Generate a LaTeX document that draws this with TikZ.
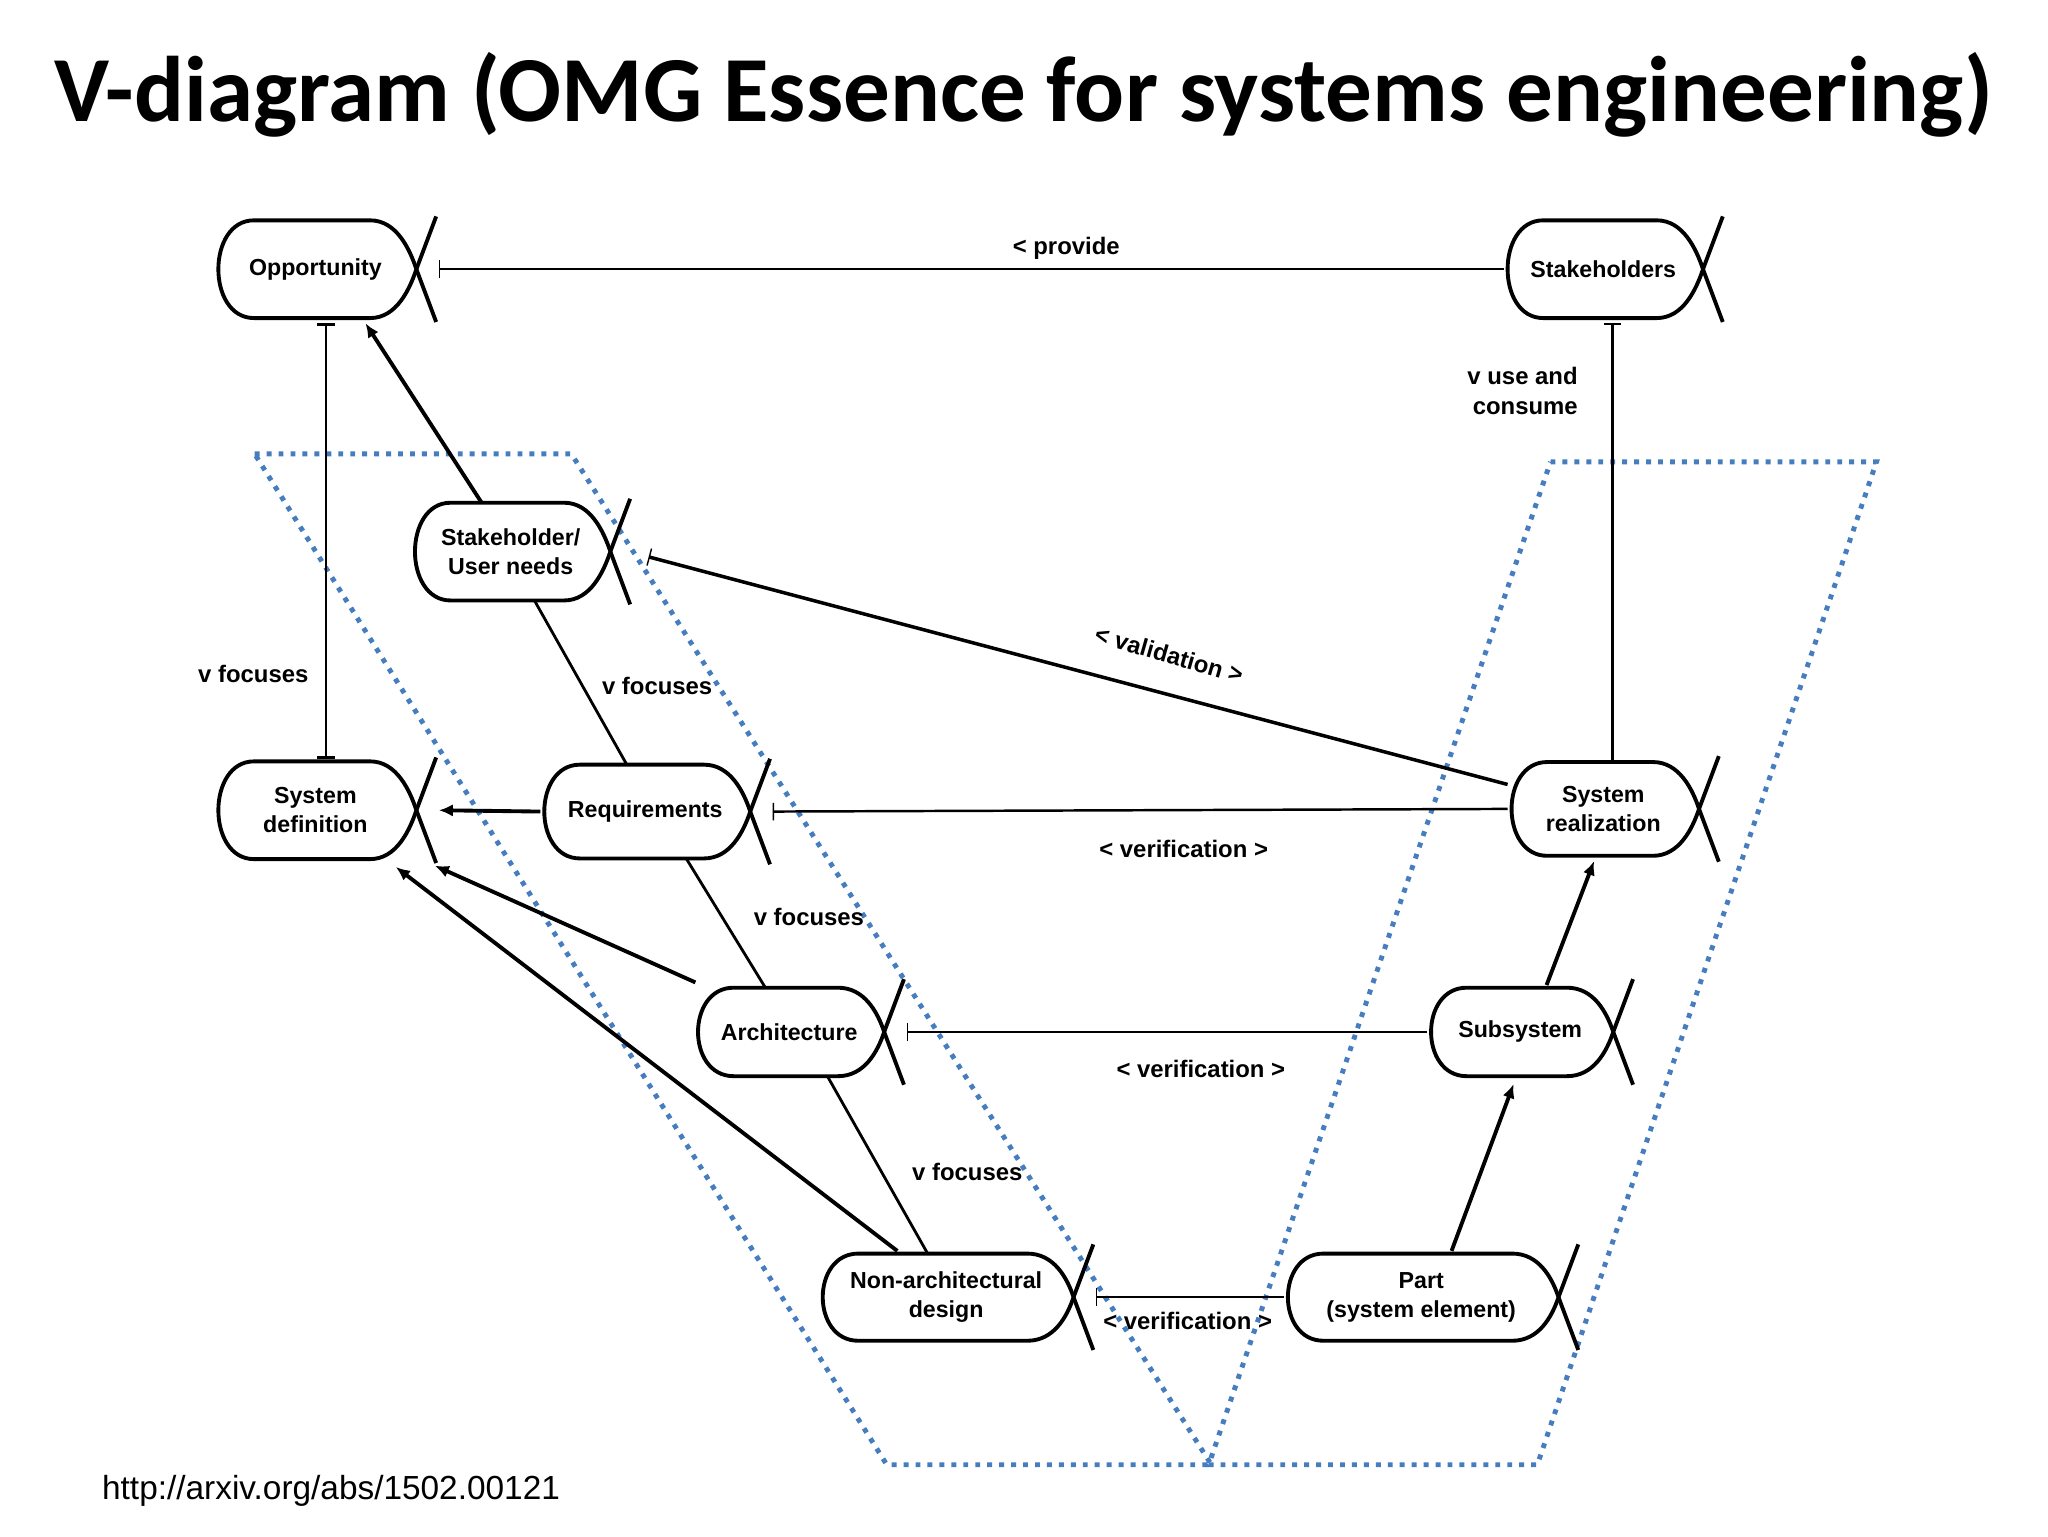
\documentclass[tikz,border=0pt]{standalone}
\usepackage{fontspec}
\setmainfont{Liberation Sans}
\newfontfamily\titlefont{Carlito}
\usetikzlibrary{calc,arrows.meta}
\definecolor{zoneblue}{RGB}{70,125,190}

\tikzset{
  ess/.style={draw=none, inner sep=0pt, align=center, font=\fontsize{6.6}{8.2}\selectfont\bfseries},
  lbl/.style={font=\fontsize{6.8}{8.5}\selectfont\bfseries, align=center},
  bar/.style={-{Bar[width=5pt,line width=0.4pt]}, line width=0.7pt},
  own/.style={-{Latex[length=4pt,width=3.5pt]}, line width=1.1pt},
  foc/.style={line width=0.8pt},
  zone/.style={draw=zoneblue, dotted, line width=1.4pt}
}
\newcommand{\essbody}[1]{%
  \draw[line width=1.1pt] ($(#1.north west)+(30,0)$) -- ($(#1.north east)+(-35,0)$)
    .. controls ($(#1.north east)+(-15,0)$) and ($(#1.east)+(-5,-15)$) .. (#1.east)
    .. controls ($(#1.east)+(-5,15)$) and ($(#1.south east)+(-15,0)$) .. ($(#1.south east)+(-35,0)$)
    -- ($(#1.south west)+(30,0)$)
    .. controls ($(#1.south west)+(-6,0)$) and ($(#1.north west)+(-6,0)$) .. cycle;
  \draw[line width=1.1pt] (#1.east) -- ++(15,-40) (#1.east) -- ++(15,40);
  \coordinate (#1-x) at ($(#1.east)+(17,0)$);}

\begin{document}
\begin{tikzpicture}[x=0.013196cm, y=-0.013196cm]
    \useasboundingbox (0,0) rectangle (1552,1164);
    \node[font=\titlefont\fontsize{26.5}{31}\selectfont\bfseries] (title) at (776,72) {V-diagram (OMG Essence for systems engineering)};

    % dotted zones
    \draw[zone] (193,344) -- (433,344) -- (918,1110) -- (672,1110) -- cycle;
    \draw[zone] (1175,350) -- (1422,350) -- (1165,1110) -- (916,1110) -- cycle;

    % alphas
    \node[ess, minimum width={152*0.013196cm}, minimum height={73*0.013196cm}] (opportunity) at (239,204) {Opportunity};
    \node[ess, minimum width={150*0.013196cm}, minimum height={73*0.013196cm}] (stakeholders) at (1215,204) {Stakeholders};
    \node[ess, minimum width={150*0.013196cm}, minimum height={73*0.013196cm}] (needs) at (387,418) {Stakeholder/\\User needs};
    \node[ess, minimum width={152*0.013196cm}, minimum height={73*0.013196cm}] (sysdef) at (239,614) {System\\definition};
    \node[ess, minimum width={158*0.013196cm}, minimum height={70*0.013196cm}] (req) at (489,615) {Requirements};
    \node[ess, minimum width={144*0.013196cm}, minimum height={70*0.013196cm}] (sysreal) at (1215,613) {System\\realization};
    \node[ess, minimum width={143*0.013196cm}, minimum height={66*0.013196cm}] (arch) at (598,782) {Architecture};
    \node[ess, minimum width={140*0.013196cm}, minimum height={66*0.013196cm}] (subsys) at (1152,782) {Subsystem};
    \node[ess, minimum width={192*0.013196cm}, minimum height={65*0.013196cm}] (nonarch) at (717,983) {Non-architectural\\design};
    \node[ess, minimum width={207*0.013196cm}, minimum height={65*0.013196cm}] (part) at (1077,983) {Part\\(system element)};
    \foreach \n in {opportunity,stakeholders,needs,sysdef,req,sysreal,arch,subsys,nonarch,part}
        \essbody{\n};

    % relations
    \draw[bar] (stakeholders.west) -- (opportunity-x);
    \draw[{Bar[width=5pt]}-{Bar[width=5pt]}, line width=0.7pt] ($(opportunity.south)+(8,4)$) -- ($(sysdef.north)+(8,-2)$);
    \draw[bar] ($(sysreal.north)+(7,0)$) -- ($(stakeholders.south)+(7,4)$);
    \draw[own] ($(needs.north)+(-22,0)$) -- ($(opportunity.south)+(38,4)$);
    \draw[foc] ($(needs.south)+(18,0)$) -- ($(req.north)+(-14,0)$);
    \draw[bar, line width=1pt] ($(sysreal.north west)+(0,17)$) -- ($(needs-x)+(12,4)$);
    \draw[own] (req.west) -- (sysdef-x);
    \draw[bar] (sysreal.west) -- (req-x);
    \draw[foc] ($(req.south)+(31,0)$) -- ($(arch.north)+(-18,0)$);
    \draw[own] ($(arch.north west)+(1,-4)$) -- ($(sysdef.south east)+(14,5)$);
    \draw[own] ($(nonarch.north)+(-37,-2)$) -- ($(sysdef.south)+(61,6)$);
    \draw[bar] (subsys.west) -- (arch-x);
    \draw[foc] ($(arch.south)+(29,0)$) -- ($(nonarch.north)+(-14,0)$);
    \draw[own] ($(subsys.north)+(20,-2)$) -- ($(sysreal.south)+(-7,4)$);
    \draw[own] ($(part.north)+(23,-2)$) -- ($(subsys.south)+(-5,6)$);
    \draw[bar] (part.west) -- (nonarch-x);

    % labels
    \node[lbl] (l-provide) at (808,188) {< provide};
    \node[lbl] (l-focus1) at (192,511) {v focuses};
    \node[lbl, align=right, anchor=east] (l-use) at (1205,296) {v use and\\consume};
    \node[lbl] (l-focus2) at (498,520) {v focuses};
    \node[lbl, rotate=-16] (l-valid) at (886,496) {< validation >};
    \node[lbl] (l-verif1) at (897,643) {< verification >};
    \node[lbl] (l-focus3) at (613,695) {v focuses};
    \node[lbl] (l-verif2) at (910,810) {< verification >};
    \node[lbl] (l-focus4) at (733,888) {v focuses};
    \node[lbl] (l-verif3) at (900,1001) {< verification >};
    \node[anchor=west, font=\fontsize{9.5}{11}\selectfont] (url) at (68,1130) {http://arxiv.org/abs/1502.00121};
\end{tikzpicture}
\end{document}
